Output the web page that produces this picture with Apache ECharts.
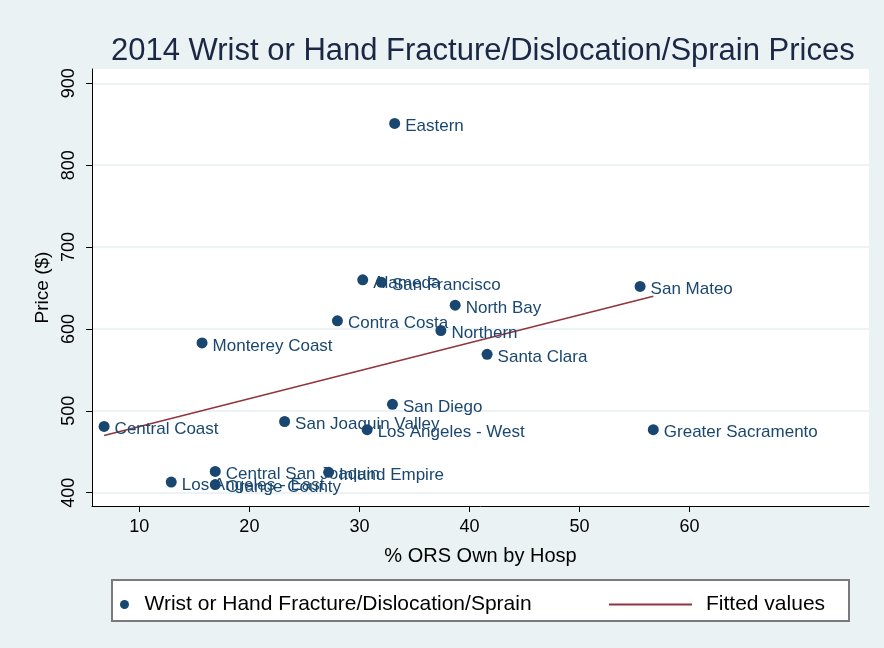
<!DOCTYPE html>
<html>
<head>
<meta charset="utf-8">
<script src="https://cdn.jsdelivr.net/npm/echarts@6/dist/echarts.min.js"></script>
<style>
  html, body { margin: 0; padding: 0; background: #eaf2f3; }
  #chart { width: 884px; height: 648px; }
</style>
</head>
<body>
<div id="chart"></div>
<script>
// Hospital service areas, share of outpatient surgery centres owned by hospitals, and price
const regions = ['Eastern', 'Alameda', 'San Francisco', 'North Bay', 'San Mateo', 'Contra Costa',
  'Northern', 'Santa Clara', 'Monterey Coast', 'San Diego', 'Central Coast', 'San Joaquin Valley',
  'Los Angeles - West', 'Greater Sacramento', 'Central San Joaquin', 'Inland Empire',
  'Los Angeles - East', 'Orange County'];
const pctOwned = [33.2, 30.3, 32.0, 38.7, 55.5, 28.0, 37.4, 41.6, 15.7, 33.0, 6.8, 23.2,
  30.7, 56.7, 16.9, 27.2, 12.9, 16.9];
const prices = [851, 660, 657, 629, 652, 610, 598, 569, 583, 508, 481, 487,
  477, 477, 426, 425, 413, 410];

// Linear fit, endpoints at the smallest and largest ownership share
const fitX = [6.8, 56.7];
const fitY = [470, 640];

const xTicks = [10, 20, 30, 40, 50, 60];
const yTicks = [400, 500, 600, 700, 800, 900];

const navy = '#1a476f';
const maroon = '#90353b';
const font = 'Liberation Sans, Arial, Helvetica, sans-serif';

const points = regions.map((r, i) => ({ name: r, value: [pctOwned[i], prices[i]] }));
const fitLine = fitX.map((x, i) => [x, fitY[i]]);

const chart = echarts.init(document.getElementById('chart'), null, { renderer: 'canvas' });
chart.setOption({
  backgroundColor: '#eaf2f3',
  animation: false,
  textStyle: { fontFamily: font },
  title: {
    text: '2014 Wrist or Hand Fracture/Dislocation/Sprain Prices',
    left: 106,
    top: 31,
    textStyle: { fontFamily: font, fontSize: 31, fontWeight: 'normal', color: '#1a2745' }
  },
  grid: {
    left: 92, right: 15, top: 69, bottom: 142,
    show: true, backgroundColor: '#ffffff', borderWidth: 0
  },
  xAxis: {
    type: 'value',
    min: 5.7,
    max: 76.3,
    name: '% ORS Own by Hosp',
    nameLocation: 'middle',
    nameGap: 40,
    nameTextStyle: { fontFamily: font, fontSize: 20, color: '#000' },
    axisLine: { show: true, onZero: false, lineStyle: { color: '#000', width: 1 } },
    axisTick: { show: true, length: 6, customValues: xTicks, lineStyle: { color: '#000' } },
    axisLabel: { customValues: xTicks, fontFamily: font, fontSize: 18, color: '#000', margin: 12 },
    splitLine: { show: false }
  },
  yAxis: {
    type: 'value',
    min: 383.8,
    max: 917.5,
    name: 'Price ($)',
    nameLocation: 'middle',
    nameGap: 38,
    nameRotate: 90,
    nameTextStyle: { fontFamily: font, fontSize: 19, color: '#000' },
    axisLine: { show: true, onZero: false, lineStyle: { color: '#000', width: 1 } },
    axisTick: { show: true, length: 6, customValues: yTicks, lineStyle: { color: '#000' } },
    axisLabel: { customValues: yTicks, rotate: 90, fontFamily: font, fontSize: 18, color: '#000', margin: 14 },
    splitLine: { show: true, lineStyle: { color: '#e6eff1', width: 1.5 } }
  },
  legend: [
    {
      data: [{ name: 'Wrist or Hand Fracture/Dislocation/Sprain', icon: 'circle' }],
      left: 115, top: 589,
      itemWidth: 30, itemHeight: 9,
      itemStyle: { opacity: 1 },
      textStyle: { fontFamily: font, fontSize: 21, color: '#000' }
    },
    {
      data: [{ name: 'Fitted values', icon: 'rect' }],
      left: 604, top: 589,
      itemWidth: 83, itemHeight: 2,
      textStyle: { fontFamily: font, fontSize: 21, color: '#000', padding: [0, 0, 0, 9] }
    }
  ],
  graphic: [
    {
      type: 'rect', z: -1,
      shape: { x: 112, y: 580, width: 737, height: 41 },
      style: { fill: '#ffffff', stroke: '#7a7a7a', lineWidth: 2 }
    }
  ],
  series: [
    {
      name: 'Wrist or Hand Fracture/Dislocation/Sprain',
      type: 'scatter',
      symbol: 'circle',
      symbolSize: 11,
      itemStyle: { color: navy, opacity: 1 },
      data: points,
      label: {
        show: true,
        position: 'right',
        distance: 5,
        offset: [0, 3],
        formatter: p => p.name,
        fontFamily: font,
        fontSize: 17,
        color: navy,
        opacity: 1
      },
      z: 3
    },
    {
      name: 'Fitted values',
      type: 'line',
      symbol: 'none',
      showSymbol: false,
      data: fitLine,
      lineStyle: { color: maroon, width: 1.5 },
      itemStyle: { color: maroon },
      z: 2
    }
  ]
});
</script>
</body>
</html>
